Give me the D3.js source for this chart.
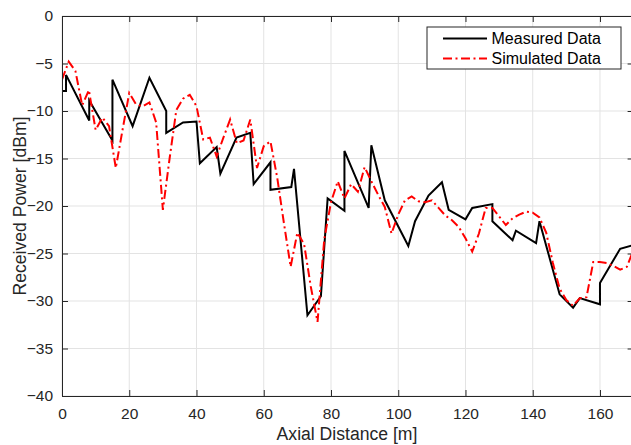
<!DOCTYPE html>
<html>
<head>
<meta charset="utf-8">
<script src="https://cdn.jsdelivr.net/npm/d3@7"></script>
<style>
  body { margin: 0; background: #fff; }
  text { font-family: "Liberation Sans", Arial, sans-serif; }
</style>
</head>
<body>
<script>

//Measured data (axial distance in m, received power in dBm)
var measX = [0, 1.2, 1.2, 8.1, 8.1, 15.0, 15.0, 21.0, 26.0, 31.0, 31.0, 36.0, 40.0, 41.0, 46.0, 47.1,
             51.9, 56.0, 57.0, 62.0, 62.0, 68.2, 69.0, 73.0, 77.0, 79.0, 84.0, 84.0, 91.2, 92.0,
             96.0, 103.0, 105.0, 109.0, 113.0, 115.0, 120.0, 122.0, 128.0, 128.0, 134.0, 135.0,
             141.0, 142.0, 148.0, 152.0, 154.0, 160.0, 160.0, 166.0, 170.0];
var measY = [-7.9, -7.9, -6.2, -11.0, -8.9, -13.1, -6.7, -11.6, -6.5, -10.0, -12.3, -11.2, -11.1, -15.5, -13.8, -16.6,
             -12.8, -12.3, -17.7, -15.4, -18.3, -18.0, -16.1, -31.5, -29.5, -19.2, -20.5, -14.2, -20.2, -13.6,
             -19.4, -24.2, -21.6, -18.9, -17.5, -20.4, -21.4, -20.2, -19.8, -21.6, -23.6, -22.6,
             -23.9, -21.6, -29.3, -30.7, -29.7, -30.35, -28.1, -24.5, -24.1];

//Simulated data, sampled every 2 m
var simX = [0, 2, 4, 6, 8, 10, 12, 14, 16, 18, 20, 22, 24, 26, 28, 30, 32, 34, 36, 38,
            40, 42, 44, 46, 48, 50, 52, 54, 56, 58, 60, 62, 64, 66, 68, 70, 72, 74, 76, 78,
            80, 82, 84, 86, 88, 90, 92, 94, 96, 98, 100, 102, 104, 106, 108, 110, 112, 114, 116, 118,
            120, 122, 124, 126, 128, 130, 132, 134, 136, 138, 140, 142, 144, 146, 148, 150, 152, 154, 156, 158,
            160, 162, 164, 166, 168, 170];
var simY = [-6.7, -4.8, -5.8, -9.4, -7.8, -12.0, -10.7, -11.6, -16.0, -12.0, -8.1, -9.3, -9.5, -9.1, -11.2, -20.4, -15.0, -9.9, -8.7, -8.3,
            -9.5, -13.0, -12.8, -14.8, -12.8, -10.9, -13.4, -13.1, -10.9, -16.0, -13.7, -13.2, -17.0, -21.8, -26.4, -22.8, -24.0, -28.5, -32.2, -23.5,
            -19.6, -17.4, -19.2, -17.7, -18.5, -15.9, -17.4, -18.8, -20.1, -22.9, -20.9, -19.4, -19.0, -19.5, -19.6, -19.4, -20.2, -21.0, -21.5, -22.2,
            -23.4, -24.8, -22.9, -20.2, -20.2, -21.1, -22.0, -21.3, -20.9, -20.6, -20.7, -21.2, -22.8, -26.0, -28.7, -29.9, -30.5, -29.7, -29.6, -25.9,
            -25.9, -26.0, -26.3, -26.7, -26.4, -24.6];

//Tick values
var xTicks = [0, 20, 40, 60, 80, 100, 120, 140, 160];
var yTicks = [0, -5, -10, -15, -20, -25, -30, -35, -40];

var seriesNames = ["Measured Data", "Simulated Data"];

//Width and height
var w = 631;
var h = 445;
var plotL = 62, plotT = 16, plotR = 633.6, plotB = 396;

var svg = d3.select("body")
            .append("svg")
            .attr("width", w)
            .attr("height", h);

//Scales
var x = d3.scaleLinear().domain([0, 170]).range([plotL, plotR]);
var y = d3.scaleLinear().domain([-40, 0]).range([plotB, plotT]);

var axisColor = "#262626";
var simDash = "9,3.5,2,3.5";

//Grid lines
svg.append("g")
   .selectAll("line")
   .data(xTicks)
   .enter()
   .append("line")
   .attr("x1", function(d) { return x(d); })
   .attr("x2", function(d) { return x(d); })
   .attr("y1", plotT)
   .attr("y2", plotB)
   .attr("stroke", "#e3e3e3")
   .attr("stroke-width", 1);

svg.append("g")
   .selectAll("line")
   .data(yTicks)
   .enter()
   .append("line")
   .attr("x1", plotL)
   .attr("x2", plotR)
   .attr("y1", function(d) { return y(d); })
   .attr("y2", function(d) { return y(d); })
   .attr("stroke", "#e3e3e3")
   .attr("stroke-width", 1);

//Clip for the data lines
svg.append("clipPath")
   .attr("id", "plotclip")
   .append("rect")
   .attr("x", plotL)
   .attr("y", plotT)
   .attr("width", plotR - plotL)
   .attr("height", plotB - plotT);

var lineMeas = d3.line()
                 .x(function(d, i) { return x(measX[i]); })
                 .y(function(d) { return y(d); });

var lineSim = d3.line()
                .x(function(d, i) { return x(simX[i]); })
                .y(function(d) { return y(d); });

var lines = svg.append("g").attr("clip-path", "url(#plotclip)");

lines.append("path")
     .attr("d", lineMeas(measY))
     .attr("fill", "none")
     .attr("stroke", "#000")
     .attr("stroke-width", 2)
     .attr("stroke-linejoin", "miter");

lines.append("path")
     .attr("d", lineSim(simY))
     .attr("fill", "none")
     .attr("stroke", "#ff0000")
     .attr("stroke-width", 2)
     .attr("stroke-dasharray", simDash);

//Axes (inward ticks, box on)
var tickLen = 6;

var xAxis = svg.append("g")
               .attr("transform", "translate(0," + plotB + ")")
               .call(d3.axisBottom(x).tickValues(xTicks).tickSize(-tickLen).tickPadding(12).tickSizeOuter(0));

var xAxisTop = svg.append("g")
                  .attr("transform", "translate(0," + plotT + ")")
                  .call(d3.axisTop(x).tickValues(xTicks).tickSize(-tickLen).tickFormat("").tickSizeOuter(0));

var yAxis = svg.append("g")
               .attr("transform", "translate(" + plotL + ",0)")
               .call(d3.axisLeft(y).tickValues(yTicks).tickSize(-tickLen).tickPadding(9).tickSizeOuter(0));

var yAxisRight = svg.append("g")
                    .attr("transform", "translate(" + plotR + ",0)")
                    .call(d3.axisRight(y).tickValues(yTicks).tickSize(-tickLen).tickFormat("").tickSizeOuter(0));

[xAxis, xAxisTop, yAxis, yAxisRight].forEach(function(g) {
    g.select(".domain").attr("stroke", axisColor).attr("stroke-width", 1);
    g.selectAll(".tick line").attr("stroke", axisColor).attr("stroke-width", 1);
    g.selectAll(".tick text")
     .attr("fill", axisColor)
     .style("font-size", "15.5px")
     .style("font-family", "'Liberation Sans', Arial, sans-serif");
});

//Axis labels
svg.append("text")
   .attr("x", (plotL + 631) / 2 + 0.5)
   .attr("y", 440)
   .attr("text-anchor", "middle")
   .attr("fill", axisColor)
   .style("font-size", "17.6px")
   .text("Axial Distance [m]");

svg.append("text")
   .attr("transform", "translate(25.5," + ((plotT + plotB) / 2) + ") rotate(-90)")
   .attr("text-anchor", "middle")
   .attr("fill", axisColor)
   .style("font-size", "17.6px")
   .text("Received Power [dBm]");

//Legend
var legend = svg.append("g");

legend.append("rect")
      .attr("x", 427)
      .attr("y", 27)
      .attr("width", 194)
      .attr("height", 42)
      .attr("fill", "#fff")
      .attr("stroke", axisColor)
      .attr("stroke-width", 1);

var legendStyles = [
    { color: "#000", dash: null },
    { color: "#ff0000", dash: simDash }
];

seriesNames.forEach(function(name, i) {
    var ly = 38.5 + i * 20;
    legend.append("line")
          .attr("x1", 443)
          .attr("x2", 487)
          .attr("y1", ly)
          .attr("y2", ly)
          .attr("stroke", legendStyles[i].color)
          .attr("stroke-width", 2)
          .attr("stroke-dasharray", legendStyles[i].dash);
    legend.append("text")
          .attr("x", 491.5)
          .attr("y", ly + 5.8)
          .attr("fill", "#000")
          .style("font-size", "16px")
          .text(name);
});

</script>
</body>
</html>
